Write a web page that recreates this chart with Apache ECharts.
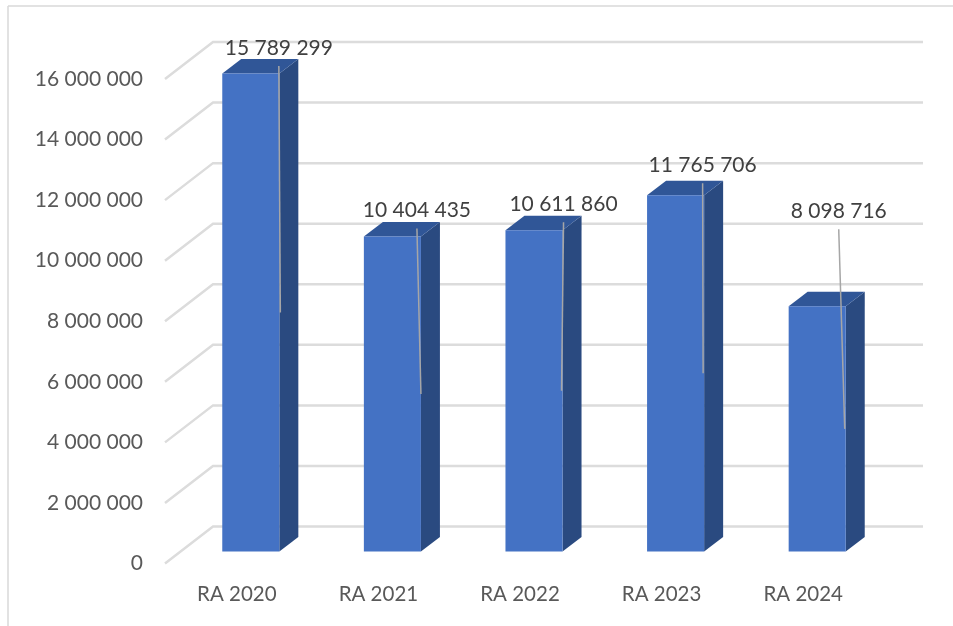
<!DOCTYPE html>
<html>
<head>
<meta charset="utf-8">
<style>html,body{margin:0;padding:0;background:#fff}#c{width:953px;height:626px}</style>
<script src="https://cdn.jsdelivr.net/npm/echarts@6/dist/echarts.min.js"></script>
</head>
<body>
<div id="c"></div>
<script>
const categories = ['RA 2020', 'RA 2021', 'RA 2022', 'RA 2023', 'RA 2024'];
const values = [15789299, 10404435, 10611860, 11765706, 8098716];
const axisTicks = [0, 2000000, 4000000, 6000000, 8000000, 10000000, 12000000, 14000000, 16000000];

// Label placement relative to each bar's top-right front corner (dx, dy)
const labelNudges = [[-0.5, -25.5], [-4, -26], [1, -26], [-1.5, -30], [-7, -95]];
const leaderEndDx = [1, 0, -1, -1, -1];

const WALL_DX = 48, WALL_DY = -37;   // front plane to back wall
const BAR_SHIFT_X = 14, BAR_SHIFT_Y = -12; // bar front face within the floor
const DEPTH_DX = 19, DEPTH_DY = -14.5;
const fmt = v => String(v).replace(/\B(?=(\d{3})+$)/g, ' ');

const chart = echarts.init(document.getElementById('c'), null, { renderer: 'canvas' });
chart.setOption({
  animation: false,
  graphic: [
    { type: 'line', silent: true, z: 0, shape: { x1: 8, y1: 6, x2: 953, y2: 6 }, style: { stroke: '#D9D9D9', lineWidth: 1.5 } },
    { type: 'line', silent: true, z: 0, shape: { x1: 8, y1: 6, x2: 8, y2: 626 }, style: { stroke: '#D9D9D9', lineWidth: 1.5 } }
  ],
  grid: { left: 166, top: 79, width: 708, height: 484.5 },
  xAxis: {
    type: 'category',
    data: categories,
    axisLine: { show: false },
    axisTick: { show: false },
    axisLabel: { color: '#595959', fontFamily: 'Lato', fontSize: 20.5, margin: 20 }
  },
  yAxis: {
    type: 'value',
    min: 0,
    max: 16000000,
    interval: 2000000,
    axisLine: { show: false },
    axisTick: { show: false },
    splitLine: { show: false },
    axisLabel: {
      color: '#595959', fontFamily: 'Lato', fontSize: 21, margin: 23,
      formatter: v => fmt(v)
    }
  },
  series: [
    {
      type: 'custom',
      name: 'gridlines',
      coordinateSystem: 'cartesian2d',
      clip: false,
      silent: true,
      z: 1,
      data: axisTicks.map(v => [0, v]),
      encode: { x: 0, y: 1 },
      renderItem: function (params, api) {
        const cs = params.coordSys;
        const y = api.coord([0, api.value(1)])[1];
        const x0 = cs.x - 1, x1 = cs.x + WALL_DX - 1, x2 = cs.x + cs.width + WALL_DX + 1;
        return {
          type: 'polyline',
          shape: { points: [[x0, y], [x1, y + WALL_DY], [x2, y + WALL_DY]] },
          style: { stroke: '#DCDCDC', lineWidth: 2.5, fill: null }
        };
      }
    },
    {
      type: 'custom',
      name: 'Bars',
      coordinateSystem: 'cartesian2d',
      clip: false,
      silent: true,
      z: 2,
      data: values.map((v, i) => [i, v]),
      encode: { x: 0, y: 1 },
      renderItem: function (params, api) {
        const i = api.value(0), v = api.value(1);
        const top = api.coord([i, v]), base = api.coord([i, 0]);
        const w = api.size([1, 0])[0] * 0.403;
        const l = top[0] + BAR_SHIFT_X - w / 2, r = l + w;
        const t = top[1] + BAR_SHIFT_Y, b = base[1] + BAR_SHIFT_Y;
        const dx = DEPTH_DX, dy = DEPTH_DY;
        const n = labelNudges[i];
        const lx = r + n[0], ly = t + n[1];
        const midY = api.coord([i, v / 2])[1] + BAR_SHIFT_Y;
        return {
          type: 'group',
          children: [
            { type: 'polygon', shape: { points: [[r, t], [r + dx, t + dy], [r + dx, b + dy], [r, b]] },
              style: { fill: '#2A4A80' } },
            { type: 'polygon', shape: { points: [[l, t], [l + dx, t + dy], [r + dx, t + dy], [r, t]] },
              style: { fill: '#305697' } },
            { type: 'rect', shape: { x: l, y: t, width: w, height: b - t },
              style: { fill: '#4472C4' } },
            { type: 'line', z2: 5, shape: { x1: lx, y1: ly + 18, x2: r + leaderEndDx[i], y2: midY },
              style: { stroke: '#A6A6A6', lineWidth: 1.5 } },
            { type: 'text', z2: 6, style: {
                text: fmt(v), x: lx, y: ly, align: 'center', verticalAlign: 'middle',
                fill: '#404040', fontFamily: 'Lato', fontSize: 21 } }
          ]
        };
      }
    }
  ]
});
</script>
</body>
</html>
